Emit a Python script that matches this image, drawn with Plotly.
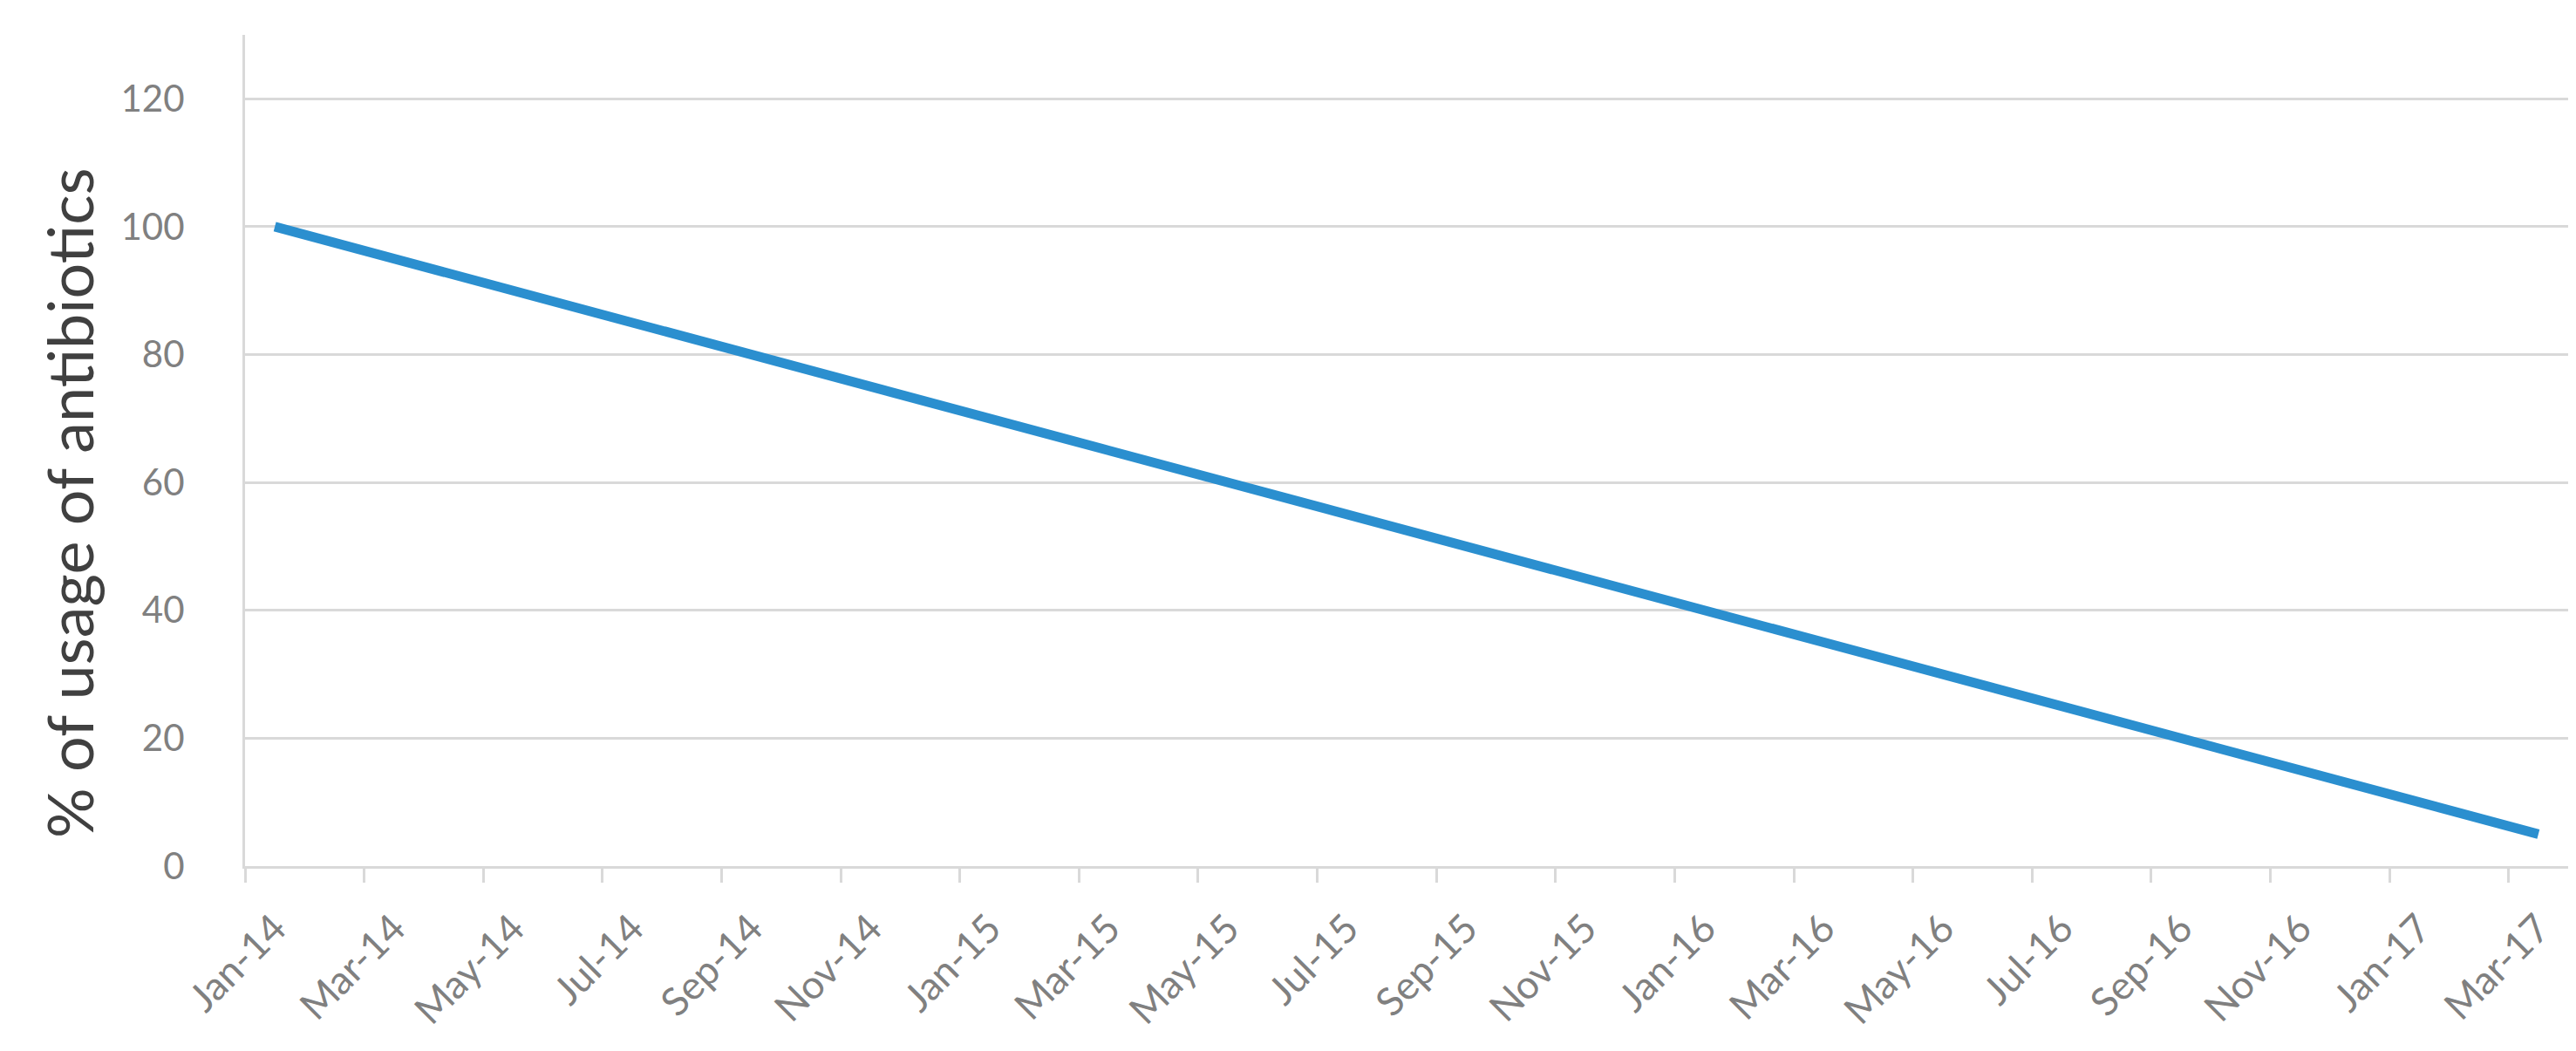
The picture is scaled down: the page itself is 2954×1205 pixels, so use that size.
import plotly.graph_objects as go

# --- Data (monthly) ---
months = [
    "Jan-14", "Feb-14", "Mar-14", "Apr-14", "May-14", "Jun-14", "Jul-14", "Aug-14",
    "Sep-14", "Oct-14", "Nov-14", "Dec-14", "Jan-15", "Feb-15", "Mar-15", "Apr-15",
    "May-15", "Jun-15", "Jul-15", "Aug-15", "Sep-15", "Oct-15", "Nov-15", "Dec-15",
    "Jan-16", "Feb-16", "Mar-16", "Apr-16", "May-16", "Jun-16", "Jul-16", "Aug-16",
    "Sep-16", "Oct-16", "Nov-16", "Dec-16", "Jan-17", "Feb-17", "Mar-17",
]
usage = [
    100, 97.5, 95, 92.5, 90, 87.5, 85, 82.5, 80, 77.5, 75, 72.5, 70, 67.5, 65, 62.5,
    60, 57.5, 55, 52.5, 50, 47.5, 45, 42.5, 40, 37.5, 35, 32.5, 30, 27.5, 25, 22.5,
    20, 17.5, 15, 12.5, 10, 7.5, 5,
]
tick_labels = months[::2]
y_ticks = [0, 20, 40, 60, 80, 100, 120]

FONT = "Lato, 'Open Sans', sans-serif"
GRID = "#d9d9d9"
LABEL = "#808080"

n = len(months)
# tick marks sit on the left edge of every second month slot
bounds = [i - 0.5 for i in range(0, n, 2)]

fig = go.Figure()
fig.add_trace(go.Scatter(
    x=months,
    y=usage,
    mode="lines",
    line=dict(color="#2b8fcf", width=11),
    showlegend=False,
))
# invisible helper so the tick-mark axis gets drawn
fig.add_trace(go.Scatter(
    x=bounds,
    y=[0] * len(bounds),
    xaxis="x2",
    mode="markers",
    marker=dict(opacity=0),
    hoverinfo="skip",
    showlegend=False,
))

fig.update_layout(
    width=2954,
    height=1205,
    margin=dict(l=273, r=17, t=32, b=220),
    plot_bgcolor="white",
    paper_bgcolor="white",
    font=dict(family=FONT, color=LABEL),
    xaxis=dict(
        type="category",
        range=[-0.5, n - 0.5],
        tickmode="array",
        tickvals=tick_labels,
        ticktext=tick_labels,
        tickangle=-45,
        ticks="",
        ticklabelstandoff=24,
        tickfont=dict(size=45, color=LABEL),
        showgrid=False,
        showline=True,
        linecolor=GRID,
        linewidth=3,
    ),
    xaxis2=dict(
        overlaying="x",
        anchor="y",
        side="bottom",
        range=[-0.5, n - 0.5],
        tickmode="array",
        tickvals=bounds,
        showticklabels=False,
        ticks="outside",
        ticklen=18,
        tickwidth=3,
        tickcolor=GRID,
        showgrid=False,
        zeroline=False,
        showline=False,
    ),
    yaxis=dict(
        range=[0, 130],
        tickmode="array",
        tickvals=y_ticks,
        ticks="",
        ticklabelstandoff=58,
        tickfont=dict(size=42, color=LABEL),
        showgrid=True,
        gridcolor=GRID,
        gridwidth=3,
        zeroline=False,
        showline=True,
        linecolor=GRID,
        linewidth=3,
    ),
)

# y-axis title sits a bit below the plot's middle, so place it by hand
fig.add_annotation(
    text="% of usage of antibiotics",
    textangle=-90,
    xref="paper", yref="paper",
    x=-0.076, y=0.437,
    xanchor="center", yanchor="middle",
    showarrow=False,
    font=dict(size=72, color="#404040", family=FONT),
)

fig.write_html("out.html")
